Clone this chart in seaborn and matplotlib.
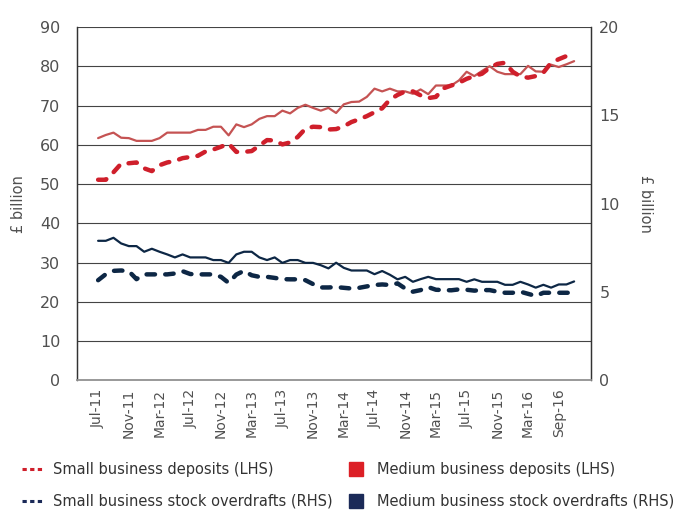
import numpy as np
import pandas as pd
import matplotlib
matplotlib.use("Agg")
import matplotlib.pyplot as plt
import seaborn as sns
from matplotlib.lines import Line2D

# ---------------- data ----------------
tick_labels = ["Jul-11", "Nov-11", "Mar-12", "Jul-12", "Nov-12", "Mar-13", "Jul-13",
               "Nov-13", "Mar-14", "Jul-14", "Nov-14", "Mar-15", "Jul-15", "Nov-15",
               "Mar-16", "Sep-16"]

# LHS, £ billion
small_deposits = [51.1, 51.1, 53.0, 55.2, 55.3, 55.5, 54.0, 53.3, 54.8, 55.5,
                  55.9, 56.6, 56.9, 57.2, 58.3, 58.8, 59.5, 60.3, 58.2, 58.2,
                  58.4, 59.8, 61.2, 61.1, 60.1, 60.6, 62.0, 64.1, 64.6, 64.5,
                  63.9, 64.0, 64.7, 65.8, 66.5, 67.3, 68.3, 69.3, 71.5, 72.7,
                  73.6, 73.6, 72.6, 71.9, 72.2, 74.4, 75.1, 75.8, 76.8, 77.5,
                  78.1, 79.6, 80.6, 80.9, 78.6, 77.4, 77.1, 77.5, 78.4, 80.9,
                  81.8, 82.6, 83.5]
medium_deposits = [61.7, 62.5, 63.1, 61.8, 61.7, 61.0, 61.0, 61.0, 61.7, 63.1,
                   63.1, 63.1, 63.1, 63.8, 63.8, 64.6, 64.6, 62.4, 65.2, 64.5,
                   65.2, 66.6, 67.3, 67.3, 68.7, 68.0, 69.4, 70.2, 69.4, 68.7,
                   69.4, 68.1, 70.3, 70.9, 71.0, 72.2, 74.3, 73.6, 74.3, 73.6,
                   73.6, 73.0, 74.1, 72.9, 75.1, 75.1, 75.1, 76.4, 78.6, 77.5,
                   78.8, 80.0, 78.6, 78.0, 78.0, 78.0, 80.1, 78.7, 78.6, 80.4,
                   79.8, 80.5, 81.3]
# RHS, £ billion
small_overdrafts = [5.67, 6.01, 6.20, 6.22, 6.18, 5.73, 6.00, 6.00, 6.00, 6.00,
                    6.05, 6.18, 6.02, 6.00, 6.00, 6.00, 5.86, 5.52, 5.99, 6.20,
                    5.95, 5.86, 5.86, 5.80, 5.73, 5.72, 5.72, 5.67, 5.45, 5.26,
                    5.26, 5.28, 5.24, 5.20, 5.24, 5.32, 5.40, 5.43, 5.40, 5.49,
                    5.20, 5.02, 5.11, 5.28, 5.13, 5.11, 5.10, 5.15, 5.13, 5.08,
                    5.11, 5.11, 5.02, 4.96, 4.96, 5.02, 4.90, 4.78, 4.96, 4.96,
                    4.96, 4.96, 4.96]
medium_overdrafts = [7.90, 7.90, 8.07, 7.75, 7.60, 7.60, 7.28, 7.45, 7.28, 7.13,
                     6.96, 7.13, 6.96, 6.96, 6.96, 6.81, 6.81, 6.65, 7.13, 7.28,
                     7.28, 6.96, 6.81, 6.96, 6.65, 6.81, 6.81, 6.65, 6.65, 6.52,
                     6.34, 6.66, 6.37, 6.22, 6.22, 6.22, 6.01, 6.19, 5.98, 5.72,
                     5.86, 5.58, 5.73, 5.86, 5.73, 5.73, 5.73, 5.73, 5.58, 5.72,
                     5.58, 5.58, 5.58, 5.41, 5.41, 5.58, 5.43, 5.25, 5.41, 5.25,
                     5.43, 5.43, 5.60]

legend_labels = ["Small business deposits (LHS)",
                 "Small business stock overdrafts (RHS)",
                 "Medium business deposits (LHS)",
                 "Medium business stock overdrafts (RHS)"]

# ---------------- styling ----------------
sns.set_style("white")
plt.rcParams['font.family'] = ['DejaVu Sans']

RED_DASH = "#cf1f2b"
RED_SOLID = "#c55353"
NAVY = "#0d2745"
RED_PATCH = "#dc1f26"
NAVY_PATCH = "#1b2a58"
TXT = "#505050"

df = pd.DataFrame({
    "idx": np.arange(len(small_deposits)),
    "small_dep": small_deposits,
    "medium_dep": medium_deposits,
    "small_od": small_overdrafts,
    "medium_od": medium_overdrafts,
})

fig = plt.figure(figsize=(6.91, 5.13), dpi=100)
ax = fig.add_axes([77 / 691, 1 - 380.4 / 513, (591 - 77) / 691, (380.4 - 27) / 513])
ax2 = ax.twinx()

DASH = (0, (1.9, 2.3))
sns.lineplot(data=df, x="idx", y="medium_dep", ax=ax, color=RED_SOLID, linewidth=1.6)
sns.lineplot(data=df, x="idx", y="small_dep", ax=ax, color=RED_DASH, linewidth=3.2,
             linestyle=DASH, dash_capstyle="round")
sns.lineplot(data=df, x="idx", y="medium_od", ax=ax2, color=NAVY, linewidth=1.6)
sns.lineplot(data=df, x="idx", y="small_od", ax=ax2, color=NAVY, linewidth=3.2,
             linestyle=DASH, dash_capstyle="round")

n = len(small_deposits)
ax.set_xlim(-2.75, n - 1 + 2.2)
ax.set_ylim(0, 90)
ax2.set_ylim(0, 20)
ax.set_yticks(np.arange(0, 91, 10))
ax2.set_yticks(np.arange(0, 21, 5))
ax.set_xticks(np.arange(0, 4 * len(tick_labels), 4))
ax.set_xticklabels(tick_labels, rotation=90)

ax.grid(axis="y", color="#444444", linewidth=0.8)
ax.grid(axis="x", visible=False)
ax2.grid(False)
ax.set_axisbelow(True)

for a in (ax, ax2):
    a.spines["top"].set_visible(False)
    a.spines["left"].set_color("#333333")
    a.spines["right"].set_color("#333333")
    a.spines["bottom"].set_color("#999999")
    a.spines["left"].set_linewidth(0.9)
    a.spines["right"].set_linewidth(0.9)
    a.spines["bottom"].set_linewidth(1.2)
    a.set_xlabel("")

ax.tick_params(axis="y", length=0, pad=12, labelsize=11.5, labelcolor=TXT)
ax.tick_params(axis="x", length=0, pad=6, labelsize=10, labelcolor=TXT)
ax2.tick_params(axis="y", length=0, pad=6, labelsize=11.5, labelcolor=TXT)

ax.set_ylabel("£ billion", fontsize=10.5, color=TXT, labelpad=10)
ax2.set_ylabel("£ billion", fontsize=10.5, color=TXT, rotation=270, labelpad=24)

handles = [
    Line2D([], [], color=RED_DASH, linewidth=2.2, linestyle=(0, (1.4, 1.1))),
    Line2D([], [], color=NAVY_PATCH, linewidth=2.2, linestyle=(0, (1.4, 1.1))),
    Line2D([], [], color=RED_PATCH, marker="s", markersize=10, linestyle="none"),
    Line2D([], [], color=NAVY_PATCH, marker="s", markersize=10, linestyle="none"),
]
fig.legend(handles, legend_labels, ncol=2, loc="lower left",
           bbox_to_anchor=(22 / 691, 4 / 513), frameon=False, borderpad=0,
           borderaxespad=0, fontsize=10.5, handlelength=1.4, handletextpad=0.75,
           columnspacing=0.9, labelspacing=1.15, labelcolor="#333333")

fig.savefig("out.png", dpi=100)
